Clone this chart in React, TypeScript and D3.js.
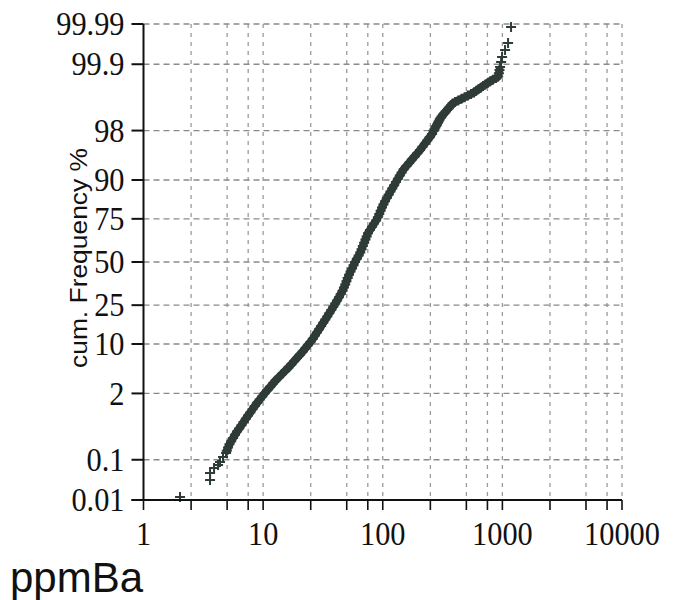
import React from "react";
import * as d3 from "d3";

// Ba concentration (ppm), paired with cumulative frequency (%)
const ppmBa: number[] = [2.02, 3.6, 3.6, 3.89, 4.2, 4.36, 4.62, 4.9,
  4.97, 5.09, 5.23, 5.41, 5.61, 5.82, 6.05, 6.31, 6.59, 6.87,
  7.17, 7.48, 7.82, 8.15, 8.52, 8.93, 9.37, 9.83, 10.31, 10.86,
  11.47, 12.08, 12.75, 13.53, 14.39, 15.3, 16.27, 17.21, 18.16, 19.17,
  20.27, 21.39, 22.53, 23.65, 24.86, 26.04, 27.11, 28.18, 29.35, 30.55,
  31.81, 33.09, 34.39, 35.74, 37.14, 38.6, 40.07, 41.56, 43.03, 44.55,
  46.12, 47.38, 48.58, 49.72, 50.88, 52.27, 53.81, 55.38, 57.01, 58.68,
  60.74, 62.89, 64.86, 66.5, 68.19, 69.92, 71.7, 73.37, 75.23, 78.16,
  81.38, 84.58, 88.07, 91.0, 93.5, 96.0, 98.6, 101.3, 104.5, 108.2,
  112.0, 116.0, 120.1, 124.6, 129.0, 133.8, 138.8, 143.9, 149.8, 157.8,
  166.3, 175.1, 184.8, 194.7, 205.1, 214.8, 224.9, 235.6, 246.7, 258.4,
  266.5, 270.6, 275.4, 280.2, 284.4, 289.4, 293.9, 299.1, 304.3, 310.2,
  318.7, 327.4, 335.7, 344.8, 354.2, 363.2, 373.1, 383.3, 402.2, 427.8,
  455.0, 483.9, 514.7, 547.4, 578.9, 603.9, 631.2, 659.7, 689.6, 722.2,
  756.4, 792.1, 833, 886, 922, 935, 946, 957, 976, 994, 1053, 1116, 1182];

const cumFreq: number[] = [0.012, 0.033, 0.049, 0.064, 0.076, 0.089, 0.116, 0.142,
  0.159, 0.187, 0.219, 0.256, 0.298, 0.347, 0.402, 0.466, 0.539, 0.621,
  0.714, 0.82, 0.939, 1.072, 1.222, 1.39, 1.578, 1.786, 2.018, 2.275,
  2.56, 2.87, 3.22, 3.59, 4.01, 4.46, 4.95, 5.48, 6.06, 6.68,
  7.35, 8.08, 8.85, 9.68, 10.56, 11.51, 12.51, 13.57, 14.69, 15.87,
  17.11, 18.41, 19.77, 21.19, 22.66, 24.2, 25.78, 27.43, 29.12, 30.85,
  32.64, 34.46, 36.32, 38.21, 40.13, 42.07, 44.04, 46.02, 48.01, 50.0,
  51.99, 53.98, 55.96, 57.93, 59.87, 61.79, 63.68, 65.54, 67.36, 69.15,
  70.88, 72.57, 74.22, 75.8, 77.34, 78.81, 80.23, 81.59, 82.89, 84.13,
  85.31, 86.43, 87.49, 88.49, 89.44, 90.32, 91.15, 91.92, 92.65, 93.32,
  93.94, 94.52, 95.05, 95.54, 95.99, 96.41, 96.78, 97.13, 97.44, 97.725,
  97.982, 98.101, 98.214, 98.321, 98.422, 98.518, 98.61, 98.696, 98.778, 98.855,
  98.928, 98.996, 99.061, 99.123, 99.18, 99.235, 99.286, 99.334, 99.379, 99.421,
  99.461, 99.499, 99.534, 99.567, 99.598, 99.626, 99.653, 99.678, 99.702, 99.724,
  99.744, 99.764, 99.781, 99.798, 99.813, 99.841, 99.865, 99.884, 99.911, 99.932, 99.954, 99.969, 99.988];

const yTicks: number[] = [0.01, 0.1, 2, 10, 25, 50, 75, 90, 98, 99.9, 99.99];
const yTickLabels: string[] = ["0.01", "0.1", "2", "10", "25", "50", "75", "90", "98", "99.9", "99.99"];
const xTicks: number[] = [1, 10, 100, 1000, 10000];
const xTickLabels: string[] = ["1", "10", "100", "1000", "10000"];
const xGrid: number[] = [2.5, 5, 7.5, 10, 25, 50, 75, 100, 250, 500, 750, 1000, 2500, 5000, 7500, 10000];

const xTitle = "ppmBa";
const yTitle = "cum. Frequency %";

// inverse standard normal CDF (Acklam) for the probability axis
function probit(p: number): number {
  const a = [-3.969683028665376e1, 2.209460984245205e2, -2.759285104469687e2, 1.38357751867269e2, -3.066479806614716e1, 2.506628277459239];
  const b = [-5.447609879822406e1, 1.615858368580409e2, -1.556989798598866e2, 6.680131188771972e1, -1.328068155288572e1];
  const c = [-7.784894002430293e-3, -3.223964580411365e-1, -2.400758277161838, -2.549732539343734, 4.374664141464968, 2.938163982698783];
  const d = [7.784695709041462e-3, 3.224671290700398e-1, 2.445134137142996, 3.754408661907416];
  const plow = 0.02425;
  if (p < plow) {
    const q = Math.sqrt(-2 * Math.log(p));
    return (((((c[0] * q + c[1]) * q + c[2]) * q + c[3]) * q + c[4]) * q + c[5]) / ((((d[0] * q + d[1]) * q + d[2]) * q + d[3]) * q + 1);
  }
  if (p <= 1 - plow) {
    const q = p - 0.5;
    const r = q * q;
    return (((((a[0] * r + a[1]) * r + a[2]) * r + a[3]) * r + a[4]) * r + a[5]) * q / (((((b[0] * r + b[1]) * r + b[2]) * r + b[3]) * r + b[4]) * r + 1);
  }
  const q = Math.sqrt(-2 * Math.log(1 - p));
  return -(((((c[0] * q + c[1]) * q + c[2]) * q + c[3]) * q + c[4]) * q + c[5]) / ((((d[0] * q + d[1]) * q + d[2]) * q + d[3]) * q + 1);
}

export default function App() {
  const W = 677, H = 600;
  const left = 143.5, right = 622, top = 24, bottom = 500;
  const x = d3.scaleLog().domain([1, 10000]).range([left, right]);
  const zScale = d3.scaleLinear().domain([probit(0.0001), probit(0.9999)]).range([bottom, top]);
  const y = (pct: number) => zScale(probit(pct / 100));

  const serif = "'Liberation Serif', 'Times New Roman', serif";
  const sans = "'Liberation Sans', Arial, sans-serif";
  const markColor = "#2f3b37";

  const pts = ppmBa.map((v, i) => [x(v), y(cumFreq[i])] as [number, number]);
  // dense run of overlapping markers rendered as a solid band
  const band = d3.line().curve(d3.curveLinear)(pts.slice(8, 145));

  return (
    <svg width={W} height={H} style={{ position: "absolute", left: 0, top: 0, background: "#fff" }}>
      {/* grid */}
      <g>
        {xGrid.map((g) => (
          <line key={"gx" + g} x1={x(g)} x2={x(g)} y1={top} y2={bottom}
            stroke="#9a9a9a" strokeWidth={1.3} strokeDasharray="4,5" />
        ))}
        {yTicks.slice(1).map((t) => (
          <line key={"gy" + t} x1={left} x2={right} y1={y(t)} y2={y(t)}
            stroke="#8a8a8a" strokeWidth={1.3} strokeDasharray="6,4" />
        ))}
      </g>
      {/* data */}
      <path d={band || ""} fill="none" stroke={markColor} strokeWidth={8} strokeLinecap="round" strokeLinejoin="round" />
      <g stroke={markColor} strokeWidth={2} fill="none">
        {pts.map(([px, py], i) => (
          <path key={i} d={`M${px - 5},${py}H${px + 5}M${px},${py - 5}V${py + 5}`} />
        ))}
      </g>
      {/* axes */}
      <g stroke="#111" strokeWidth={2}>
        <line x1={left} x2={left} y1={top} y2={bottom} />
        <line x1={left - 12} x2={right} y1={bottom} y2={bottom} />
        {yTicks.map((t) => (
          <line key={"ty" + t} x1={left - 12} x2={left} y1={y(t)} y2={y(t)} />
        ))}
        {[1, ...xGrid].map((g) => (
          <line key={"tx" + g} x1={x(g)} x2={x(g)} y1={bottom} y2={bottom + 10} strokeWidth={1.6} />
        ))}
      </g>
      <g fontFamily={serif} fontSize={33} fill="#111">
        {yTicks.map((t, i) => (
          <text key={"ly" + t} transform={`translate(${left - 19},${y(t)}) scale(0.92,1)`} dy="0.34em" textAnchor="end">{yTickLabels[i]}</text>
        ))}
        {xTicks.map((t, i) => (
          <text key={"lx" + t} transform={`translate(${x(t)},545) scale(0.92,1)`} textAnchor="middle">{xTickLabels[i]}</text>
        ))}
      </g>
      <text transform={`translate(87,258) rotate(-90) scale(1.1,1)`} textAnchor="middle" fontFamily={sans} fontSize={24} fill="#111">{yTitle}</text>
      <text x={10} y={592} fontFamily={sans} fontSize={42} fill="#111">{xTitle}</text>
    </svg>
  );
}
